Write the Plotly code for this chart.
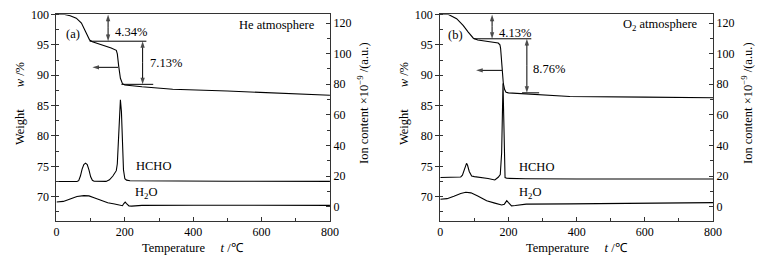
import plotly.graph_objects as go

# ---------------- data ----------------
# Panel (a) He atmosphere
he_w_T = [0, 15, 24, 40, 58, 73, 83, 90, 97, 105, 130, 160, 175, 178, 182, 187, 193, 200, 250, 340, 500, 650, 800]
he_w = [100, 100, 100, 99.8, 99.4, 98.6, 97.5, 96.7, 95.8, 95.5, 95.1, 94.5, 94.1, 93.5, 91.5, 89.5, 88.6, 88.4, 88.1, 87.7, 87.4, 87.1, 86.7]

he_hcho_T = [0, 60, 65, 70, 75, 80, 85, 90, 95, 100, 105, 110, 145, 155, 165, 175, 178, 181, 184, 187, 190, 193, 196, 200, 205, 215, 300, 500, 800]
he_hcho = [16.4, 16.4, 17, 20, 24.5, 27.5, 28.4, 27.5, 24, 19.5, 17.2, 16.6, 16.5, 17.5, 20, 23.5, 28, 42, 60, 69.8, 62, 40, 24, 18.2, 17.3, 16.9, 16.7, 16.6, 16.5]

he_h2o_T = [0, 20, 40, 60, 80, 95, 110, 130, 150, 170, 185, 193, 197, 201, 205, 212, 220, 250, 400, 600, 800]
he_h2o = [3.0, 3.4, 5.0, 6.6, 7.2, 7.0, 5.8, 3.9, 2.5, 1.7, 0.9, 0.6, 2.0, 3.0, 2.0, 0.5, 0.3, 0.8, 0.9, 0.9, 0.8]

# Panel (b) O2 atmosphere
o2_w_T = [0, 15, 24, 48, 67, 82, 89, 97, 110, 140, 170, 175, 177, 181, 185, 189, 193, 200, 250, 380, 600, 800]
o2_w = [100, 100, 100, 99.3, 98.2, 97.1, 96.6, 96.1, 95.8, 95.6, 95.3, 95.0, 94.4, 91.5, 88.6, 87.6, 87.2, 87.1, 86.9, 86.5, 86.4, 86.3]

o2_hcho_T = [0, 60, 65, 70, 74, 77, 80, 85, 92, 100, 140, 160, 170, 176, 180, 182, 184, 186, 188, 190, 195, 250, 400, 800]
o2_hcho = [19.0, 19.4, 20.5, 24, 27.5, 28.3, 27, 23, 20, 19.6, 18.4, 17.4, 19.2, 21, 35, 65, 80.5, 60, 30, 19, 18.5, 18.2, 18.1, 18.1]

o2_h2o_T = [0, 20, 40, 60, 75, 90, 110, 136, 160, 180, 188, 195, 200, 209, 220, 252, 380, 600, 800]
o2_h2o = [4.8, 5.2, 6.8, 8.6, 9.4, 9.0, 7.0, 3.8, 2.3, 1.1, 1.6, 3.9, 2.6, 0.5, 0.7, 1.6, 1.8, 2.2, 2.6]

x_ticks = [0, 200, 400, 600, 800]
w_ticks = [70, 75, 80, 85, 90, 95, 100]
ion_ticks = [0, 20, 40, 60, 80, 100, 120]

# ---------------- figure ----------------
FONT = "Liberation Serif"
TS = 12.5
LC = "black"
AX = "#333333"

fig = go.Figure()

def line(x, y, xa, ya):
    fig.add_trace(go.Scatter(x=x, y=y, xaxis=xa, yaxis=ya, mode="lines",
                             line=dict(color=LC, width=1.1), showlegend=False,
                             hoverinfo="skip"))

line(he_w_T, he_w, "x", "y")
line(he_hcho_T, he_hcho, "x", "y2")
line(he_h2o_T, he_h2o, "x", "y2")
line(o2_w_T, o2_w, "x2", "y3")
line(o2_hcho_T, o2_hcho, "x2", "y4")
line(o2_h2o_T, o2_h2o, "x2", "y4")

def arrow(x0, y0, x1, y1, xa, ya):
    # segment from (x0,y0) to (x1,y1) with arrowhead at (x1,y1)
    fig.add_trace(go.Scatter(x=[x0, x1], y=[y0, y1], xaxis=xa, yaxis=ya,
                             mode="lines+markers",
                             line=dict(color="black", width=1),
                             marker=dict(symbol="arrow", angleref="previous",
                                         size=[0, 7], color="black",
                                         line=dict(width=0)),
                             showlegend=False, hoverinfo="skip"))

def darrow(x, y0, y1, xa, ya):
    m = (y0 + y1) / 2
    arrow(x, m, x, y0, xa, ya)
    arrow(x, m, x, y1, xa, ya)

# panel (a) arrows
darrow(151, 95.6, 100, "x", "y")
darrow(252, 88.5, 95.6, "x", "y")
arrow(180, 91.3, 105, 91.3, "x", "y")
# panel (b) arrows
darrow(152, 96.0, 100, "x2", "y3")
darrow(254, 87.1, 96.0, "x2", "y3")
arrow(181, 90.8, 105, 90.8, "x2", "y3")

ydom = [0.1597, 0.9449]
xdom1 = [0.0746, 0.4359]
xdom2 = [0.5816, 0.9419]

def xax(dom, anchor):
    return dict(domain=dom, anchor=anchor, range=[0, 800], tickvals=x_ticks,
                showline=True, linecolor=AX, linewidth=1, mirror=True,
                ticks="inside", ticklen=4, tickcolor=AX,
                minor=dict(dtick=100, tick0=0, ticks="inside", ticklen=3, tickcolor=AX),
                showgrid=False, zeroline=False, automargin=False,
                tickfont=dict(family=FONT, size=12, color="black"))

def yleft(anchor):
    return dict(domain=ydom, anchor=anchor, range=[66, 100], tickvals=w_ticks,
                showline=True, linecolor=AX, linewidth=1,
                ticks="outside", ticklen=4, tickcolor=AX,
                minor=dict(dtick=2.5, tick0=0, ticks="inside", ticklen=3, tickcolor=AX),
                showgrid=False, zeroline=False, automargin=False,
                tickfont=dict(family=FONT, size=12, color="black"))

def yright(over, anchor):
    return dict(overlaying=over, anchor=anchor, side="right", range=[-9.4, 125.6],
                tickvals=ion_ticks, showline=True, linecolor=AX, linewidth=1,
                ticks="inside", ticklen=4, tickcolor=AX,
                minor=dict(dtick=10, tick0=0, ticks="inside", ticklen=3, tickcolor=AX),
                showgrid=False, zeroline=False, automargin=False,
                tickfont=dict(family=FONT, size=12, color="black"))

fig.update_layout(
    width=757, height=263, autosize=False,
    margin=dict(l=0, r=0, t=0, b=0, pad=0, autoexpand=False),
    paper_bgcolor="white", plot_bgcolor="white",
    font=dict(family=FONT, size=12, color="black"),
    xaxis=xax(xdom1, "y"),
    yaxis=yleft("x"),
    yaxis2=yright("y", "x"),
    xaxis2=xax(xdom2, "y3"),
    yaxis3=yleft("x2"),
    yaxis4=yright("y3", "x2"),
)

ann = []
shapes = []

def txt(x, y, s, xr, yr, xanchor="left", size=TS):
    ann.append(dict(x=x, y=y, xref=xr, yref=yr, text=s, showarrow=False,
                    xanchor=xanchor, yanchor="middle",
                    font=dict(family=FONT, size=size, color="black")))

def hline(x0, x1, y, xr, yr):
    shapes.append(dict(type="line", x0=x0, x1=x1, y0=y, y1=y, xref=xr, yref=yr,
                       line=dict(color="black", width=1)))

# panel (a)
txt(48, 96.8, "(a)", "x", "y", "center")
txt(762, 98.3, "He atmosphere", "x", "y", "right")
txt(166, 97.1, "4.34%", "x", "y")
txt(268, 92.0, "7.13%", "x", "y")
hline(97, 263, 95.6, "x", "y")
hline(190, 283, 88.5, "x", "y")
txt(283, 26.8, "HCHO", "x", "y2", "center")
txt(261, 8.8, "H<sub>2</sub>O", "x", "y2", "center")

# panel (b)
txt(44, 96.7, "(b)", "x2", "y3", "center")
txt(762, 98.2, "O<sub>2</sub> atmosphere", "x2", "y3", "right")
txt(166, 97.0, "4.13%", "x2", "y3")
txt(266, 91.0, "8.76%", "x2", "y3")
hline(98, 267, 96.0, "x2", "y3")
hline(240, 290, 87.1, "x2", "y3")
txt(281, 26.1, "HCHO", "x2", "y4", "center")
txt(262, 8.7, "H<sub>2</sub>O", "x2", "y4", "center")

# axis titles
NB = "\u00a0"
ytitle = "Weight" + NB * 7 + "<i>w</i> /%"
rtitle = "Ion content ×10<sup>−9</sup> /(a.u.)"
xtitle = "Temperature" + NB * 5 + "<i>t</i> /℃"
for xc, rc, xm in [(20, 363, 193), (404, 747, 577)]:
    ann.append(dict(x=xc / 757, y=1 - 104 / 263, xref="paper", yref="paper", text=ytitle,
                    showarrow=False, textangle=-90, xanchor="center", yanchor="middle",
                    font=dict(family=FONT, size=TS, color="black")))
    ann.append(dict(x=rc / 757, y=1 - 103 / 263, xref="paper", yref="paper", text=rtitle,
                    showarrow=False, textangle=-90, xanchor="center", yanchor="middle",
                    font=dict(family=FONT, size=TS, color="black")))
    ann.append(dict(x=xm / 757, y=1 - 248 / 263, xref="paper", yref="paper", text=xtitle,
                    showarrow=False, xanchor="center", yanchor="middle",
                    font=dict(family=FONT, size=TS, color="black")))

fig.update_layout(annotations=ann, shapes=shapes)
fig.write_html("out.html", config={"displayModeBar": False},
               post_script="document.body.style.margin='0';document.body.style.overflow='hidden';")
